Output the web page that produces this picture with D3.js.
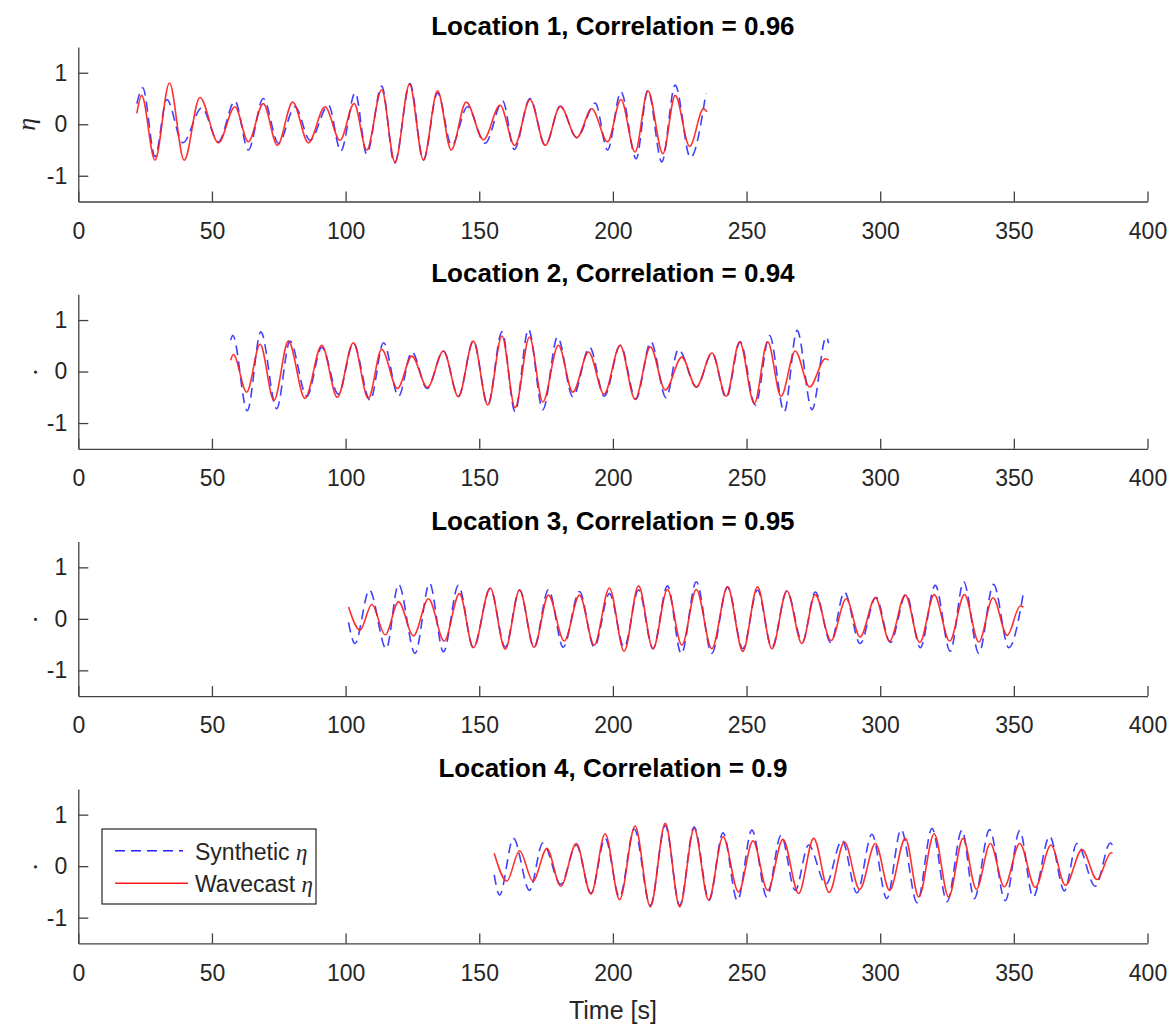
<!DOCTYPE html>
<html>
<head>
<meta charset="utf-8">
<script src="https://cdn.jsdelivr.net/npm/d3@7"></script>
<style>
  html, body { margin: 0; padding: 0; background: #fff; }
  svg { display: block; }
</style>
</head>
<body>
<div id="chart"></div>
<script>
// Surface elevation time series at four locations: synthetic vs. Wavecast.
// Each series is a list of [time (s), eta] samples at the wave crests and troughs.

const locationNames = ["Location 1", "Location 2", "Location 3", "Location 4"];
const correlations = ["0.96", "0.94", "0.95", "0.9"];
const xTicks = [0, 50, 100, 150, 200, 250, 300, 350, 400];
const yTicks = [-1, 0, 1];
const seriesNames = ["Synthetic", "Wavecast"];

const loc1Synthetic = [[21.9,0.40],[24.1,0.71],[28.7,-0.63],[33.1,0.48],[39.1,-0.36],[46.2,0.32],[52.4,-0.34],[58.6,0.45],[63.6,-0.50],[69.2,0.50],[74.9,-0.37],[81.1,0.34],[86.7,-0.31],[93.6,0.37],[98.2,-0.52],[103.6,0.61],[107.9,-0.58],[113.5,0.74],[118.3,-0.76],[124.1,0.79],[129.1,-0.70],[134.4,0.61],[139.7,-0.41],[145.6,0.34],[152.2,-0.37],[158.8,0.45],[163.1,-0.49],[169.0,0.50],[174.7,-0.41],[180.3,0.35],[186.5,-0.26],[193.4,0.41],[198.0,-0.50],[203.0,0.63],[208.7,-0.67],[213.1,0.66],[218.3,-0.73],[223.3,0.76],[229.0,-0.65],[234.8,0.60]];
const loc1Wavecast = [[21.9,0.21],[23.7,0.56],[28.7,-0.70],[34.1,0.80],[39.6,-0.70],[45.5,0.52],[52.4,-0.36],[58.6,0.34],[63.6,-0.34],[69.2,0.40],[74.5,-0.41],[80.2,0.43],[86.1,-0.36],[92.3,0.34],[97.9,-0.31],[103.2,0.40],[107.9,-0.50],[113.5,0.67],[118.5,-0.74],[123.9,0.78],[129.1,-0.69],[134.4,0.65],[139.5,-0.50],[145.1,0.43],[151.6,-0.30],[157.8,0.37],[163.2,-0.41],[169.0,0.48],[174.7,-0.41],[180.3,0.35],[186.5,-0.26],[192.1,0.30],[198.0,-0.34],[203.0,0.48],[208.3,-0.54],[213.1,0.65],[218.7,-0.57],[223.3,0.56],[228.7,-0.43],[233.9,0.30],[235.2,0.24]];

const loc2Synthetic = [[57.0,0.61],[57.8,0.70],[63.2,-0.76],[68.3,0.77],[74.2,-0.72],[79.2,0.59],[85.5,-0.48],[91.1,0.47],[97.3,-0.44],[102.9,0.55],[109.2,-0.56],[114.2,0.56],[119.8,-0.48],[124.8,0.38],[130.5,-0.33],[136.6,0.40],[142.2,-0.48],[147.8,0.60],[153.2,-0.65],[158.5,0.77],[163.4,-0.78],[168.4,0.82],[173.8,-0.74],[179.3,0.67],[185.0,-0.49],[191.3,0.47],[196.8,-0.48],[202.8,0.51],[208.6,-0.54],[214.2,0.58],[219.9,-0.51],[224.5,0.43],[231.3,-0.30],[237.1,0.36],[242.4,-0.51],[247.6,0.58],[253.3,-0.65],[258.6,0.70],[264.1,-0.78],[268.9,0.80],[274.5,-0.74],[279.8,0.67],[280.7,0.55]];
const loc2Wavecast = [[57.0,0.22],[58.0,0.33],[63.0,-0.40],[68.0,0.53],[73.2,-0.56],[78.6,0.59],[84.8,-0.52],[91.1,0.51],[96.9,-0.50],[102.9,0.56],[108.5,-0.52],[113.5,0.43],[119.4,-0.33],[124.8,0.30],[130.6,-0.31],[136.6,0.40],[142.2,-0.49],[147.8,0.59],[153.2,-0.65],[158.5,0.69],[163.4,-0.70],[168.8,0.67],[173.8,-0.59],[179.6,0.51],[185.0,-0.40],[190.9,0.38],[196.7,-0.44],[202.7,0.51],[208.3,-0.54],[214.0,0.48],[219.6,-0.36],[225.8,0.28],[231.2,-0.30],[237.1,0.36],[242.4,-0.48],[247.4,0.58],[252.9,-0.62],[257.9,0.58],[262.9,-0.48],[268.2,0.40],[273.6,-0.30],[279.5,0.25],[280.7,0.22]];

const loc3Synthetic = [[101.1,-0.07],[103.5,-0.48],[108.9,0.56],[115.2,-0.58],[119.8,0.67],[126.0,-0.67],[131.4,0.69],[136.6,-0.64],[142.2,0.65],[147.8,-0.56],[154.1,0.59],[159.7,-0.55],[165.1,0.56],[170.5,-0.55],[175.9,0.57],[181.4,-0.55],[187.5,0.53],[193.0,-0.55],[198.7,0.49],[204.2,-0.55],[209.6,0.56],[215.0,-0.58],[220.4,0.64],[225.6,-0.68],[231.2,0.72],[237.0,-0.67],[242.9,0.62],[248.6,-0.58],[254.1,0.56],[259.5,-0.55],[265.1,0.54],[270.9,-0.45],[275.7,0.52],[281.5,-0.46],[286.6,0.52],[292.5,-0.48],[298.4,0.42],[303.8,-0.46],[309.7,0.48],[315.0,-0.56],[320.6,0.65],[326.2,-0.63],[331.2,0.72],[336.9,-0.67],[342.4,0.67],[348.1,-0.56],[353.8,0.57]];
const loc3Wavecast = [[101.1,0.23],[105.4,-0.22],[109.8,0.28],[114.8,-0.31],[119.8,0.33],[125.4,-0.33],[131.0,0.39],[136.9,-0.43],[142.6,0.49],[147.8,-0.56],[154.1,0.60],[159.7,-0.59],[165.1,0.56],[170.5,-0.55],[175.9,0.46],[181.8,-0.43],[187.5,0.46],[193.0,-0.51],[198.7,0.60],[204.2,-0.63],[209.6,0.64],[215.0,-0.58],[220.4,0.57],[225.8,-0.51],[231.2,0.57],[237.0,-0.58],[242.9,0.62],[248.6,-0.63],[254.1,0.62],[259.5,-0.58],[265.1,0.54],[270.7,-0.48],[275.7,0.47],[281.6,-0.42],[287.3,0.39],[292.5,-0.35],[298.2,0.41],[303.5,-0.43],[309.4,0.46],[314.8,-0.46],[320.2,0.47],[326.0,-0.43],[331.5,0.47],[336.9,-0.45],[342.2,0.41],[347.5,-0.32],[352.4,0.25],[353.6,0.23]];

const loc4Synthetic = [[155.6,-0.17],[157.6,-0.56],[162.8,0.54],[168.8,-0.47],[173.8,0.45],[180.5,-0.35],[186.3,0.41],[191.8,-0.53],[197.1,0.54],[202.5,-0.60],[208.0,0.72],[214.0,-0.76],[219.6,0.79],[225.0,-0.76],[230.4,0.76],[236.0,-0.66],[241.2,0.65],[246.6,-0.67],[252.0,0.70],[257.6,-0.60],[262.9,0.60],[268.2,-0.47],[273.2,0.41],[279.7,-0.35],[285.7,0.50],[291.3,-0.52],[296.9,0.62],[302.5,-0.63],[307.8,0.71],[313.8,-0.71],[319.4,0.73],[325.0,-0.69],[330.6,0.70],[335.2,-0.63],[340.9,0.71],[346.8,-0.67],[352.2,0.69],[357.2,-0.60],[363.4,0.58],[368.9,-0.48],[373.6,0.44],[380.5,-0.39],[386.1,0.45],[387.0,0.40]];
const loc4Wavecast = [[155.6,0.25],[160.3,-0.29],[165.1,0.30],[170.1,-0.29],[175.3,0.34],[180.5,-0.39],[186.3,0.44],[191.8,-0.54],[197.1,0.63],[202.5,-0.65],[208.3,0.78],[214.0,-0.79],[219.6,0.83],[225.0,-0.79],[230.4,0.73],[235.8,-0.66],[241.2,0.57],[247.0,-0.50],[252.4,0.49],[257.9,-0.47],[263.6,0.52],[269.5,-0.53],[275.1,0.54],[280.9,-0.51],[286.6,0.47],[292.3,-0.45],[298.2,0.44],[303.5,-0.47],[309.4,0.54],[314.4,-0.60],[320.2,0.63],[325.6,-0.60],[331.0,0.54],[336.0,-0.45],[341.2,0.44],[346.4,-0.40],[352.2,0.44],[358.0,-0.41],[363.9,0.41],[369.3,-0.37],[375.5,0.32],[381.1,-0.26],[386.4,0.26],[386.9,0.25]];

const syntheticSeries = [loc1Synthetic, loc2Synthetic, loc3Synthetic, loc4Synthetic];
const wavecastSeries = [loc1Wavecast, loc2Wavecast, loc3Wavecast, loc4Wavecast];

// ---- layout ----
const W = 1170, H = 1026;
const left = 78.3, right = 1147.5;
const panelTop0 = 47, panelStep = 247.3, panelH = 154.5;
const axisColor = "#404040", textColor = "#262626";
const sans = "'Liberation Sans', Arial, Helvetica, sans-serif";
const serif = "'Liberation Serif', 'Times New Roman', serif";

const svg = d3.select("#chart").append("svg")
  .attr("width", W).attr("height", H)
  .attr("viewBox", `0 0 ${W} ${H}`);
svg.append("rect").attr("width", W).attr("height", H).attr("fill", "#fff");

const x = d3.scaleLinear().domain([0, 400]).range([left, right]);

locationNames.forEach((name, i) => {
  const top = panelTop0 + i * panelStep;
  const y = d3.scaleLinear().domain([-1.5, 1.5]).range([top + panelH, top]);
  const g = svg.append("g");

  const line = d3.line()
    .x(d => x(d[0]))
    .y(d => y(d[1]))
    .curve(d3.curveMonotoneX);

  // synthetic (dashed blue), then Wavecast (solid red) on top
  g.append("path")
    .datum(syntheticSeries[i])
    .attr("d", line)
    .attr("fill", "none")
    .attr("stroke", "#1f1fff")
    .attr("stroke-opacity", 0.85)
    .attr("stroke-width", 1.6)
    .attr("stroke-dasharray", "10,6");

  g.append("path")
    .datum(wavecastSeries[i])
    .attr("d", line)
    .attr("fill", "none")
    .attr("stroke", "#ff1a1a")
    .attr("stroke-opacity", 0.9)
    .attr("stroke-width", 1.6);

  // x axis
  const xAxis = d3.axisBottom(x)
    .tickValues(xTicks)
    .tickSize(-10)
    .tickSizeOuter(0)
    .tickPadding(21)
    .tickFormat(d => String(d));
  const gx = g.append("g")
    .attr("transform", `translate(0,${top + panelH})`)
    .call(xAxis);

  // y axis
  const yAxis = d3.axisLeft(y)
    .tickValues(yTicks)
    .tickSize(-10)
    .tickSizeOuter(0)
    .tickPadding(11)
    .tickFormat(d => String(d));
  const gy = g.append("g")
    .attr("transform", `translate(${left},0)`)
    .call(yAxis);

  [gx, gy].forEach(ax => {
    ax.select(".domain").attr("stroke", axisColor).attr("stroke-width", 1.3);
    ax.selectAll(".tick line").attr("stroke", axisColor).attr("stroke-width", 1.3);
    ax.selectAll(".tick text")
      .attr("fill", textColor)
      .style("font-family", sans)
      .style("font-size", "23px");
  });

  // title
  g.append("text")
    .attr("x", (left + right) / 2)
    .attr("y", top - 12)
    .attr("text-anchor", "middle")
    .style("font-family", sans)
    .style("font-weight", "bold")
    .style("font-size", "26px")
    .attr("fill", "#000")
    .text(`${name}, Correlation = ${correlations[i]}`);

  // y label
  const yMid = y(0);
  g.append("text")
    .attr("transform", `translate(${i === 0 ? 35 : 37},${yMid}) rotate(-90)`)
    .attr("text-anchor", "middle")
    .style("font-family", serif)
    .style("font-style", "italic")
    .style("font-size", "26px")
    .attr("fill", textColor)
    .text(i === 0 ? "η" : ".");
});

// x label
svg.append("text")
  .attr("x", (left + right) / 2)
  .attr("y", 1019)
  .attr("text-anchor", "middle")
  .style("font-family", sans)
  .style("font-size", "25px")
  .attr("fill", textColor)
  .text("Time [s]");

// legend (bottom panel)
const legend = svg.append("g");
legend.append("rect")
  .attr("x", 102).attr("y", 829)
  .attr("width", 214).attr("height", 75)
  .attr("fill", "#fff")
  .attr("stroke", "#262626")
  .attr("stroke-width", 1.2);

const legendRows = [
  { label: seriesNames[0], y: 850.7, color: "#1f1fff", dash: "10,6", x2: 183 },
  { label: seriesNames[1], y: 883.3, color: "#ff1a1a", dash: null, x2: 188 }
];
legendRows.forEach(r => {
  legend.append("line")
    .attr("x1", 115).attr("x2", r.x2)
    .attr("y1", r.y).attr("y2", r.y)
    .attr("stroke", r.color)
    .attr("stroke-width", 1.6)
    .attr("stroke-dasharray", r.dash);
  const t = legend.append("text")
    .attr("x", 195).attr("y", r.y + 9)
    .style("font-family", sans)
    .style("font-size", "23px")
    .attr("fill", textColor);
  t.append("tspan").text(r.label + " ");
  t.append("tspan")
    .style("font-family", serif)
    .style("font-style", "italic")
    .text("η");
});
</script>
</body>
</html>
